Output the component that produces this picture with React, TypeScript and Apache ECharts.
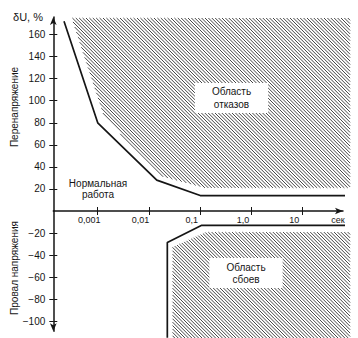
import React, { useEffect, useRef } from 'react';
import * as echarts from 'echarts';

// Axis ticks
const timeTicks = [0.001, 0.01, 0.1, 1, 10];
const timeTickLabels = ['0,001', '0,01', '0,1', '1,0', '10'];
const deviationTicks = [-100, -80, -60, -40, -20, 20, 40, 60, 80, 100, 120, 140, 160];

// Overvoltage tolerance curve (time, s; deviation, %)
const overvoltageTimes = [0.00022, 0.001, 0.0142, 0.1, 77];
const overvoltageValues = [172, 80, 28, 14, 14];

// Voltage sag tolerance curve
const sagTimes = [0.0228, 0.0228, 0.107, 84];
const sagValues = [-115, -28.5, -13, -13];

// Hatched region "Область отказов" (polygon)
const failureTimes = [0.00031, 0.00133, 0.0164, 0.124, 84, 84];
const failureValues = [175, 85.5, 31.8, 20.9, 20.9, 175];

// Hatched region "Область сбоев" (polygon)
const malfunctionTimes = [0.0288, 0.0288, 0.13, 84, 84];
const malfunctionValues = [-115.5, -32.7, -19.1, -19.1, -115.5];

const FONT = '"Liberation Sans", Arial, Helvetica, sans-serif';
const INK = '#151515';

function hatchSegments(poly: number[][], step: number) {
  const n = poly.length;
  const cs = poly.map((p) => p[0] - p[1]);
  const cmin = Math.min(...cs);
  const cmax = Math.max(...cs);
  const segs: number[][][] = [];
  for (let c = Math.ceil(cmin / step) * step; c <= cmax; c += step) {
    const pts: number[][] = [];
    for (let i = 0; i < n; i++) {
      const a = poly[i];
      const b = poly[(i + 1) % n];
      const fa = a[0] - a[1] - c;
      const fb = b[0] - b[1] - c;
      if ((fa <= 0 && fb > 0) || (fa > 0 && fb <= 0)) {
        const t = fa / (fa - fb);
        pts.push([a[0] + t * (b[0] - a[0]), a[1] + t * (b[1] - a[1])]);
      }
    }
    if (pts.length >= 2) {
      pts.sort((p, q) => p[1] - q[1]);
      segs.push([pts[0], pts[pts.length - 1]]);
    }
  }
  return segs;
}

function hatchSeries(times: number[], values: number[], axisIndex: number) {
  return {
    type: 'custom',
    coordinateSystem: 'cartesian2d',
    xAxisIndex: axisIndex,
    yAxisIndex: axisIndex,
    clip: false,
    silent: true,
    z: 1,
    encode: { x: 0, y: 1 },
    data: times.map((t, i) => [t, values[i]]),
    renderItem: (params: any, api: any) => {
      if (params.dataIndex !== 0) return null;
      const poly = times.map((t, i) => api.coord([t, values[i]]));
      const segs = hatchSegments(poly, 3.4);
      return {
        type: 'group',
        children: segs.map((s) => ({
          type: 'line',
          shape: { x1: s[0][0], y1: s[0][1], x2: s[1][0], y2: s[1][1] },
          style: { stroke: '#474747', lineWidth: 1 },
          silent: true,
        })),
      };
    },
  };
}

function timeLabel(v: number) {
  for (let i = 0; i < timeTicks.length; i++) {
    if (Math.abs(Math.log10(v) - Math.log10(timeTicks[i])) < 1e-6) return timeTickLabels[i];
  }
  return '';
}

export default function App() {
  const ref = useRef<HTMLDivElement>(null);

  useEffect(() => {
    if (!ref.current) return;
    const chart = echarts.init(ref.current, null, { renderer: 'svg' });
    const xMin = 1.36e-4;
    const xMax = 61;
    const yMin = -109;
    const yMax = 176;
    const posTicks = deviationTicks.filter((v) => v > 0);
    const negTicks = deviationTicks.filter((v) => v < 0);

    const tickStyle = { color: INK, width: 1 };
    const yLabel = {
      show: true,
      formatter: (v: number) => (v < 0 ? '\u2212' + Math.abs(v) : String(v)),
      fontSize: 10,
      fontFamily: FONT,
      color: INK,
      margin: 8,
    };

    const option: any = {
      animation: false,
      backgroundColor: '#ffffff',
      textStyle: { fontFamily: FONT, color: INK },
      grid: [
        { left: 53.3, right: 15, top: 16.9, bottom: 127, containLabel: false, outerBoundsMode: 'none' },
        { left: 53.3, right: 15, top: 211, bottom: 6.8, containLabel: false, outerBoundsMode: 'none' },
      ],
      xAxis: [
        {
          type: 'log',
          gridIndex: 0,
          min: xMin,
          max: xMax,
          position: 'bottom',
          axisLine: {
            show: true,
            onZero: false,
            symbol: ['none', 'arrow'],
            symbolSize: [5, 8],
            lineStyle: { color: INK, width: 1.5 },
          },
          axisTick: { show: true, customValues: timeTicks, length: 4, inside: false, lineStyle: tickStyle },
          axisLabel: {
            show: true,
            customValues: timeTicks,
            formatter: (v: number) => timeLabel(v),
            fontSize: 9,
            fontFamily: FONT,
            color: INK,
            margin: 4,
            padding: [0, 17, 0, 0],
          },
          splitLine: { show: false },
          minorTick: { show: false },
          minorSplitLine: { show: false },
        },
        {
          type: 'log',
          gridIndex: 1,
          min: xMin,
          max: xMax,
          position: 'top',
          axisLine: { show: false, onZero: false },
          axisTick: { show: true, customValues: timeTicks, length: 4, inside: false, lineStyle: tickStyle },
          axisLabel: { show: false },
          splitLine: { show: false },
          minorTick: { show: false },
          minorSplitLine: { show: false },
        },
      ],
      yAxis: [
        {
          type: 'value',
          gridIndex: 0,
          min: 0,
          max: yMax,
          position: 'left',
          axisLine: {
            show: true,
            onZero: false,
            symbol: ['none', 'arrow'],
            symbolSize: [5, 8],
            lineStyle: { color: INK, width: 1.5 },
          },
          axisTick: { show: true, customValues: posTicks, length: 4, inside: false, lineStyle: tickStyle },
          axisLabel: { ...yLabel, customValues: posTicks },
          splitLine: { show: false },
        },
        {
          type: 'value',
          gridIndex: 1,
          min: yMin,
          max: 0,
          position: 'left',
          axisLine: {
            show: true,
            onZero: false,
            symbol: ['arrow', 'none'],
            symbolSize: [5, 8],
            lineStyle: { color: INK, width: 1.5 },
          },
          axisTick: { show: true, customValues: negTicks, length: 4, inside: false, lineStyle: tickStyle },
          axisLabel: { ...yLabel, customValues: negTicks },
          splitLine: { show: false },
        },
        {
          type: 'value',
          gridIndex: 0,
          min: 0,
          max: yMax,
          position: 'left',
          offset: 0,
          axisLine: { show: false, onZero: false },
          axisTick: { show: true, customValues: posTicks, length: 4, inside: true, lineStyle: tickStyle },
          axisLabel: { show: false },
          splitLine: { show: false },
        },
        {
          type: 'value',
          gridIndex: 1,
          min: yMin,
          max: 0,
          position: 'left',
          offset: 0,
          axisLine: { show: false, onZero: false },
          axisTick: { show: true, customValues: negTicks, length: 4, inside: true, lineStyle: tickStyle },
          axisLabel: { show: false },
          splitLine: { show: false },
        },
      ],
      series: [
        hatchSeries(failureTimes, failureValues, 0),
        hatchSeries(malfunctionTimes, malfunctionValues, 1),
        {
          type: 'line',
          xAxisIndex: 0,
          yAxisIndex: 0,
          data: overvoltageTimes.map((t, i) => [t, overvoltageValues[i]]),
          showSymbol: false,
          symbol: 'none',
          clip: false,
          z: 5,
          lineStyle: { color: INK, width: 1.7 },
        },
        {
          type: 'line',
          xAxisIndex: 1,
          yAxisIndex: 1,
          data: sagTimes.map((t, i) => [t, sagValues[i]]),
          showSymbol: false,
          symbol: 'none',
          clip: false,
          z: 5,
          lineStyle: { color: INK, width: 1.7 },
        },
      ],
      graphic: [
        {
          type: 'text',
          x: 43,
          y: 16.5,
          z: 100,
          style: { text: 'δU, %', align: 'right', verticalAlign: 'middle', fontSize: 11, fontFamily: FONT, fill: INK },
        },
        {
          type: 'text',
          x: 338,
          y: 220,
          z: 100,
          style: { text: 'сек', align: 'center', verticalAlign: 'middle', fontSize: 9, fontFamily: FONT, fill: INK },
        },
        {
          type: 'text',
          x: 14,
          y: 107,
          rotation: Math.PI / 2,
          z: 100,
          style: { text: 'Перенапряжение', align: 'center', verticalAlign: 'middle', fontSize: 10, fontFamily: FONT, fill: INK },
        },
        {
          type: 'text',
          x: 14,
          y: 268,
          rotation: Math.PI / 2,
          z: 100,
          style: { text: 'Провал напряжения', align: 'center', verticalAlign: 'middle', fontSize: 10, fontFamily: FONT, fill: INK },
        },
        {
          type: 'text',
          x: 98,
          y: 189,
          z: 100,
          style: { text: 'Нормальная\nработа', align: 'center', verticalAlign: 'middle', fontSize: 10, lineHeight: 11, fontFamily: FONT, fill: INK },
        },
        {
          type: 'text',
          x: 231.5,
          y: 98,
          z: 100,
          style: {
            text: 'Область\nотказов',
            align: 'center',
            verticalAlign: 'middle',
            fontSize: 10,
            lineHeight: 13,
            fontFamily: FONT,
            fill: INK,
            backgroundColor: '#ffffff',
            padding: [2, 17],
          },
        },
        {
          type: 'text',
          x: 246,
          y: 273,
          z: 100,
          style: {
            text: 'Область\nсбоев',
            align: 'center',
            verticalAlign: 'middle',
            fontSize: 10,
            lineHeight: 12,
            fontFamily: FONT,
            fill: INK,
            backgroundColor: '#ffffff',
            padding: [3, 17],
          },
        },
      ],
    };

    chart.setOption(option);
    return () => chart.dispose();
  }, []);

  return (
    <div
      ref={ref}
      style={{ position: 'fixed', left: 0, top: 0, width: 358, height: 338, background: '#fff' }}
    />
  );
}
